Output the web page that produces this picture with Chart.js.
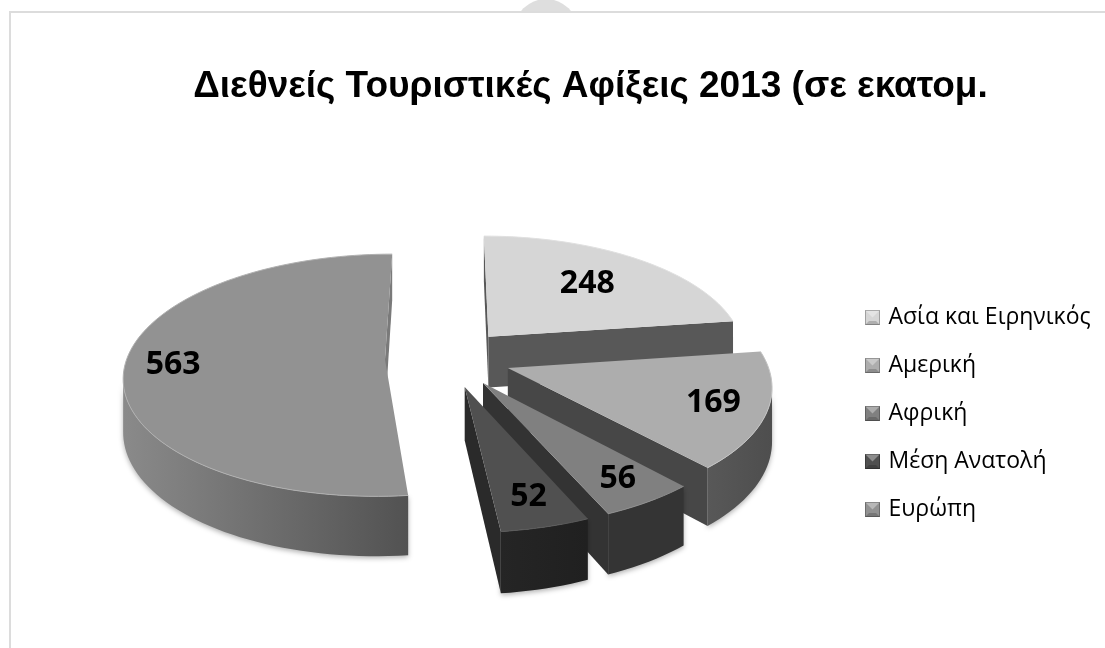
<!DOCTYPE html>
<html>
<head>
<meta charset="utf-8">
<script src="https://cdn.jsdelivr.net/npm/chart.js@4"></script>
<style>
    html, body { margin: 0; padding: 0; background: #fff; overflow: hidden; }
    #blob { position: absolute; left: 514px; top: -1px; width: 64px; height: 64px; border-radius: 50%; background: #dedede; }
    #frame { position: absolute; left: 9px; top: 11px; width: 1200px; height: 700px; border: 2px solid #dcdcdc; background: #fff; }
    #wrap { position: absolute; left: 0; top: 0; width: 1105px; height: 648px; }
</style>
</head>
<body>
<div id="blob"></div>
<div id="frame"></div>
<div id="wrap"><canvas id="myChart" width="1105" height="648"></canvas></div>
<script>
var categories = ['Ασία και Ειρηνικός', 'Αμερική', 'Αφρική', 'Μέση Ανατολή', 'Ευρώπη']
var arrivals = [248, 169, 56, 52, 563]
var topColors = ['#d6d6d6', '#adadad', '#808080', '#505050', '#929292']
var rimColors = ['#e0e0e0', '#c4c4c4', '#8c8c8c', '#5a5a5a', '#b0b0b0']
var wallColors = [['#5a5a5a', '#5a5a5a'], ['#585858', '#4e4e4e'], ['#343434', '#343434'], ['#252525', '#202020'], ['#8a8a8a', '#525252']]
var cutColors = ['#585858', '#474747', '#333333', '#2a2a2a', '#7a7a7a']
var labelSpots = [0.65, 0.8, 0.83, 0.81, 0.815]

// 3d look of the pie
var view = { cx: 448, cy: 358, radius: 258, explode: 63, tilt: 0.46, depth: 0.0005, height: 52 }

function project(u, v, drop) {
    var w = 1 / (1 - view.depth * v)
    return { x: view.cx + u * w, y: view.cy + view.tilt * v * w + (drop ? view.height * w : 0) }
}

function slicePoint(arc, angle, r) {
    var mid = (arc.startAngle + arc.endAngle) / 2
    return {
        u: view.explode * Math.cos(mid) + r * Math.cos(angle),
        v: view.explode * Math.sin(mid) + r * Math.sin(angle)
    }
}

function outline(arc) {
    var pts = []
    var steps = Math.ceil((arc.endAngle - arc.startAngle) * 30)
    for (var i = 0; i <= steps; i++) {
        var a = arc.startAngle + (arc.endAngle - arc.startAngle) * i / steps
        pts.push(slicePoint(arc, a, view.radius))
    }
    return pts
}

function trace(ctx, pts) {
    ctx.beginPath()
    pts.forEach((p, i) => { if (i) ctx.lineTo(p.x, p.y); else ctx.moveTo(p.x, p.y) })
    ctx.closePath()
}

function drawSlice(ctx, arc, i) {
    var rim = outline(arc)
    var apex = slicePoint(arc, arc.startAngle, 0)
    var tops = rim.map(p => project(p.u, p.v, false))
    var drops = rim.map(p => project(p.u, p.v, true))
    var apexTop = project(apex.u, apex.v, false)
    var apexDrop = project(apex.u, apex.v, true)

    // outer wall, only the part facing the viewer
    var xs = tops.map(p => p.x)
    var grad = ctx.createLinearGradient(Math.min(...xs), 0, Math.max(...xs), 0)
    grad.addColorStop(0, wallColors[i][0])
    grad.addColorStop(1, wallColors[i][1])
    ctx.save()
    ctx.shadowColor = 'rgba(0,0,0,0.3)'
    ctx.shadowBlur = 5
    ctx.shadowOffsetY = 2
    ctx.fillStyle = grad
    var front = []
    for (var k = 0; k < tops.length - 1; k++) {
        if (tops[k + 1].x < tops[k].x) front.push(k)
    }
    if (front.length) {
        var upper = tops.slice(front[0], front[front.length - 1] + 2)
        var lower = drops.slice(front[0], front[front.length - 1] + 2).reverse()
        trace(ctx, upper.concat(lower))
        ctx.fill()
    }
    ctx.restore()

    // straight cut faces
    ctx.fillStyle = cutColors[i]
    var last = tops.length - 1
    if (apexTop.x < tops[last].x) {
        trace(ctx, [tops[last], apexTop, apexDrop, drops[last]])
        ctx.fill()
    }
    if (tops[0].x < apexTop.x) {
        trace(ctx, [apexTop, tops[0], drops[0], apexDrop])
        ctx.fill()
    }

    // top face and its light rim
    trace(ctx, tops.concat([apexTop]))
    ctx.fillStyle = topColors[i]
    ctx.fill()
    ctx.beginPath()
    tops.forEach((p, n) => { if (n) ctx.lineTo(p.x, p.y); else ctx.moveTo(p.x, p.y) })
    ctx.strokeStyle = rimColors[i]
    ctx.lineWidth = 1
    ctx.stroke()
}

var pie3d = {
    id: 'pie3d',
    afterLayout(chart) {
        // the legend sits further left than its box width would allow
        var legend = chart.legend
        var w = legend.width
        legend.left = 843
        legend.right = 843 + w
        legend.top = 281
    },
    beforeDatasetDraw(chart) {
        return false
    },
    afterDatasetsDraw(chart) {
        var ctx = chart.ctx
        var arcs = chart.getDatasetMeta(0).data
        arcs.forEach((arc, i) => drawSlice(ctx, arc, i))

        ctx.save()
        ctx.font = 'bold 32px "Open Sans"'
        ctx.fillStyle = '#000'
        ctx.textAlign = 'center'
        ctx.textBaseline = 'middle'
        arcs.forEach((arc, i) => {
            var mid = (arc.startAngle + arc.endAngle) / 2
            var p = slicePoint(arc, mid, view.radius * labelSpots[i])
            var pos = project(p.u, p.v, false)
            ctx.fillText(String(arrivals[i]), pos.x, pos.y)
        })
        ctx.restore()
    }
}

function swatch(color) {
    var c = document.createElement('canvas')
    c.width = 15
    c.height = 15
    var g = c.getContext('2d')
    g.fillStyle = color
    g.fillRect(0, 0, 15, 15)
    g.fillStyle = 'rgba(255,255,255,0.35)'
    g.beginPath(); g.moveTo(0, 0); g.lineTo(15, 0); g.lineTo(7.5, 7.5); g.closePath(); g.fill()
    g.fillStyle = 'rgba(0,0,0,0.18)'
    g.beginPath(); g.moveTo(0, 15); g.lineTo(15, 15); g.lineTo(11, 11); g.lineTo(4, 11); g.closePath(); g.fill()
    g.strokeStyle = 'rgba(0,0,0,0.25)'
    g.strokeRect(0.5, 0.5, 14, 14)
    return c
}

var swatches = topColors.map(swatch)

const ctx = document.getElementById('myChart')
const myChart = new Chart(ctx, {
    type: 'pie',
    plugins: [pie3d],
    data: {
        labels: categories,
        datasets: [{
            data: arrivals,
            backgroundColor: topColors,
            borderWidth: 0
        }]
    },
    options: {
        responsive: false,
        animation: false,
        layout: { padding: { left: 76, top: 65 } },
        plugins: {
            title: {
                display: true,
                text: 'Διεθνείς Τουριστικές Αφίξεις 2013 (σε εκατομ.',
                color: '#000',
                font: { family: '"Liberation Sans"', size: 37, weight: 'bold' },
                padding: 0
            },
            legend: {
                display: true,
                position: 'right',
                align: 'start',
                labels: {
                    color: '#000',
                    font: { family: '"Open Sans"', size: 23 },
                    padding: 25,
                    usePointStyle: true,
                    pointStyleWidth: 9,
                    generateLabels(chart) {
                        return categories.map((name, i) => ({
                            text: name,
                            fillStyle: topColors[i],
                            strokeStyle: topColors[i],
                            pointStyle: swatches[i],
                            lineWidth: 0,
                            index: i
                        }))
                    }
                }
            },
            tooltip: { enabled: false }
        }
    }
})
</script>
</body>
</html>
